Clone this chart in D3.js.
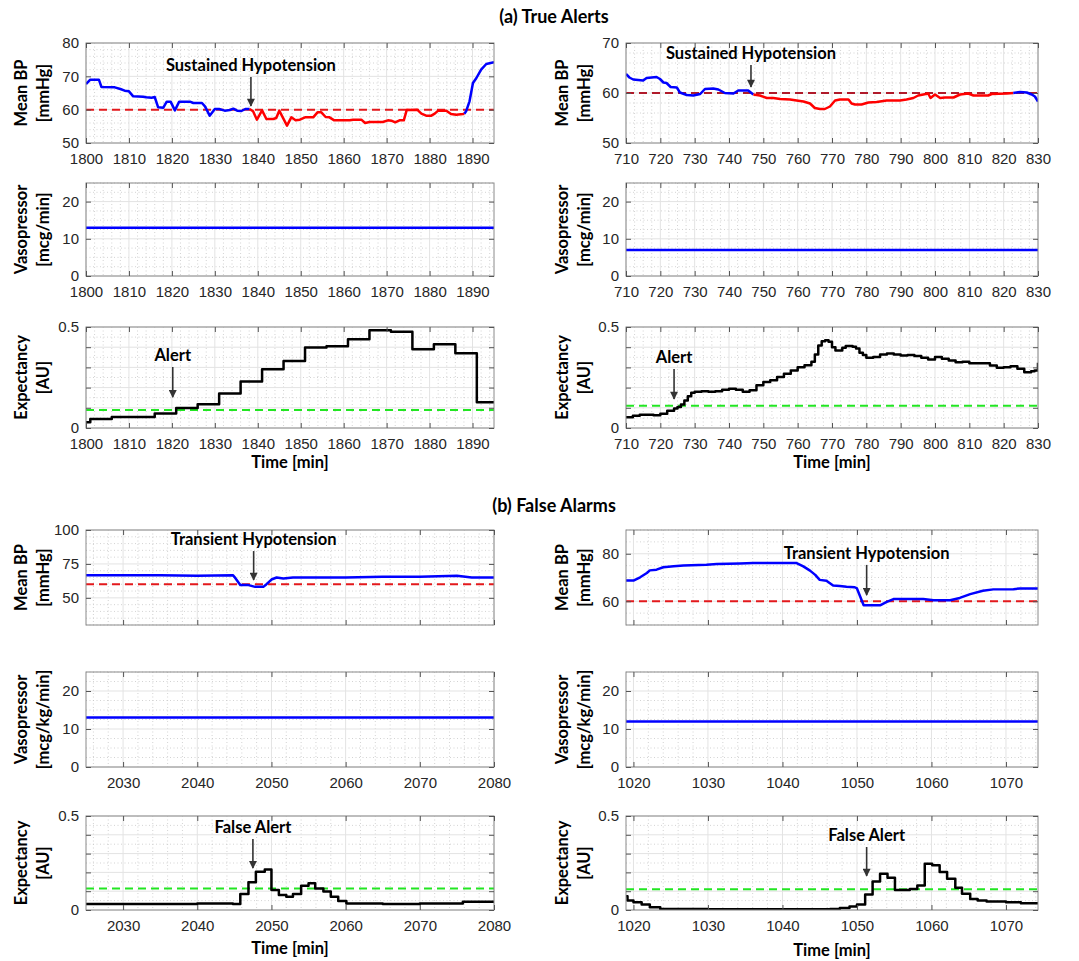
<!DOCTYPE html>
<html>
<head>
<meta charset="utf-8">
<script src="https://cdn.jsdelivr.net/npm/d3@7"></script>
<style>
  body { margin: 0; background: #fff; }
  .tick text { font-family: 'Liberation Sans', Arial, sans-serif; font-size: 15px; fill: #262626; }
  .lbl { font-family: Lato, 'Open Sans', sans-serif; font-weight: 700; fill: #000; }
</style>
</head>
<body>
<svg id="chart" width="1079" height="961"></svg>
<script>
// ---- data ----
// (a) true alerts, left case
const bpTrueLeft = [[1800,67.7],[1801,69],[1803,69],[1803.6,66.8],[1806.7,66.7],[1808,66.2],[1809,65.7],[1810,65.5],[1811,64],[1813.3,63.9],[1814,63.7],[1815.3,63.6],[1816,63.8],[1816.8,60.7],[1818,60.6],[1818.8,62.4],[1819.7,62.4],[1820.7,59.8],[1821.7,62.4],[1824.2,62.4],[1825,62],[1827,62],[1827.7,61],[1828.8,58.2],[1830,60.2],[1831,60.2],[1832.3,59.7],[1833.5,59.9],[1834.3,60.3],[1835.2,59.7],[1836.2,59.6],[1837.1,60.2],[1838.1,60.2],[1838.9,59.5],[1839.8,57],[1841,59.8],[1842,57.2],[1843.6,57.2],[1844.3,57.5],[1845,59.7],[1846.8,55.2],[1847.8,57.7],[1848.8,56.8],[1849.8,57],[1851,57.7],[1852.9,57.7],[1853.9,59.2],[1854.8,59.2],[1855.8,57.8],[1856.7,57.7],[1857.8,56.8],[1861.4,56.8],[1862.2,57],[1864.1,57],[1865,56],[1866,56.3],[1869.1,56.3],[1870.3,56.8],[1871.1,56.7],[1872,56.2],[1873,56.8],[1874,56.8],[1874.7,60],[1876.1,59.9],[1877.1,60],[1878.1,58.8],[1879.2,58.2],[1880.4,58.2],[1881.2,58.8],[1882,59.7],[1883.9,59.7],[1885,58.7],[1886.2,58.5],[1887.8,58.7],[1888.1,58.8],[1888.5,59.5],[1889.3,62.5],[1890.1,68],[1890.9,69.5],[1892,72],[1893.2,73.7],[1895,74.2]];
const hypoSpanTrueLeft = [1838.1, 1888.1];
const vasoTrueLeft = [[1800,13],[1895,13]];
const expTrueLeft = [[1800,0.028],[1801,0.044],[1806,0.055],[1816,0.072],[1821,0.099],[1826,0.118],[1831,0.171],[1836,0.23],[1841,0.291],[1846,0.332],[1851,0.398],[1856,0.405],[1861,0.439],[1866,0.484],[1871,0.477],[1876,0.39],[1881,0.414],[1886,0.37],[1891,0.127],[1895,0.127]];
const xTicksTrueLeft = [1800,1810,1820,1830,1840,1850,1860,1870,1880,1890];

// (a) true alerts, right case
const bpTrueRight = [[710,63.8],[711,63.1],[712.1,62.7],[715,62.5],[716,63],[718.9,63.2],[719.9,62.8],[720.9,62.1],[721.8,62],[723,61.2],[724.8,61.1],[725.7,60.1],[727.7,59.6],[729.6,59.5],[731.6,59.8],[733,60.8],[735.4,60.9],[736.9,60.7],[738.8,60],[741.3,59.9],[742.7,60.5],[745.6,60.5],[747.1,59.7],[749,59.5],[751,59],[752.9,59],[754.9,58.8],[757.8,58.7],[759.7,58.5],[761.7,58.3],[763.6,57.9],[765,57],[766.5,56.8],[767.9,56.8],[769.4,57.3],[770.9,58.5],[772.3,58.7],[774.8,58.7],[775.7,57.9],[776.7,57.7],[778.6,57.7],[780.6,58.1],[783,58.2],[785.9,58.5],[789.8,58.5],[791.7,58.7],[793.7,59],[795.1,59.5],[796.6,59.7],[798,59.9],[798.7,59],[800,59.7],[801.5,59],[802.9,59.1],[805.4,59.1],[807.3,59.7],[809.7,59.9],[811.2,59.5],[815.5,59.5],[816.5,59.8],[820.9,59.9],[822.8,60],[824.8,60.2],[826.7,60.1],[828.2,59.7],[829.1,59.3],[830,58.3]];
const hypoSpanTrueRight = [747.1, 822.8];
const vasoTrueRight = [[710,7],[830,7]];
const expTrueRight = [[710,0.053],[712,0.061],[714,0.066],[716,0.066],[718,0.063],[720,0.071],[722,0.086],[724,0.096],[725,0.104],[726,0.116],[727,0.136],[728,0.157],[729,0.174],[730,0.179],[732,0.182],[734,0.179],[736,0.182],[738,0.189],[740,0.194],[742,0.189],[744,0.179],[746,0.187],[748,0.212],[750,0.228],[752,0.237],[754,0.252],[756,0.268],[758,0.285],[760,0.301],[762,0.311],[764,0.328],[765,0.364],[766,0.409],[767,0.43],[768,0.434],[769,0.427],[770,0.4],[771,0.384],[772,0.384],[773,0.397],[774,0.406],[776,0.402],[777,0.394],[778,0.372],[779,0.361],[780,0.348],[782,0.351],[784,0.364],[786,0.369],[788,0.364],[790,0.359],[792,0.361],[794,0.356],[796,0.348],[798,0.339],[800,0.351],[802,0.343],[804,0.334],[806,0.326],[808,0.328],[810,0.32],[812,0.32],[814,0.32],[816,0.31],[818,0.298],[820,0.301],[822,0.306],[824,0.293],[826,0.276],[828,0.281],[829,0.285],[830,0.323]];
const xTicksTrueRight = [710,720,730,740,750,760,770,780,790,800,810,820,830];

// (b) false alarms, left case
const bpFalseLeft = [[2025,66.7],[2035,66.7],[2040,66.3],[2044.8,66.7],[2045,65.5],[2045.8,59.4],[2046.9,59.4],[2047.8,58.1],[2048.9,58.1],[2049.3,59.9],[2050,63.5],[2050.7,65],[2051.6,64.3],[2052.9,65],[2060,65],[2065,65.5],[2070,65.5],[2075,66.3],[2077,65],[2080,65]];
const vasoFalseLeft = [[2025,13],[2080,13]];
const expFalseLeft = [[2025,0.032],[2035,0.032],[2040,0.035],[2044,0.034],[2044.8,0.032],[2045.8,0.085],[2046.9,0.147],[2047.9,0.204],[2049.1,0.216],[2050,0.106],[2051,0.08],[2052,0.071],[2052.9,0.085],[2054,0.129],[2055,0.142],[2055.9,0.115],[2057,0.098],[2058,0.071],[2059,0.048],[2060.1,0.035],[2065,0.032],[2070,0.034],[2075,0.035],[2075.8,0.044],[2080,0.043]];
const xTicksFalseLeft = [2030,2040,2050,2060,2070,2080];

// (b) false alarms, right case
const bpFalseRight = [[1019,68.7],[1020,68.7],[1020.9,70.1],[1021.8,71.9],[1022.2,73],[1023.1,73.3],[1024,74.3],[1025.4,74.7],[1026.7,75.1],[1029.8,75.4],[1031.2,75.7],[1034.3,75.9],[1036.1,76.1],[1041.9,76.1],[1042.8,74.7],[1043.7,72.9],[1044.4,71.1],[1045,69],[1045.9,68.6],[1046.8,66.6],[1047.7,66.4],[1048.6,66.1],[1049.7,65.9],[1050,65.4],[1050.9,58.3],[1051.8,58.3],[1053.1,58.3],[1054,59.7],[1054.9,60.9],[1056.7,60.9],[1058.9,60.9],[1060.3,60.4],[1062.5,60.4],[1063.8,61.4],[1065.2,63],[1066.9,64.4],[1068.3,65],[1071,65.1],[1071.9,65.4],[1074.3,65.4]];
const vasoFalseRight = [[1019,12],[1074.3,12]];
const expFalseRight = [[1019,0.073],[1019.2,0.05],[1020,0.041],[1021.1,0.029],[1022.2,0.014],[1023.6,0.005],[1030,0.004],[1040,0.004],[1046.4,0.005],[1047.7,0.011],[1049,0.018],[1050,0.029],[1051.1,0.082],[1052.1,0.152],[1053.1,0.193],[1054.1,0.171],[1055.1,0.107],[1056.1,0.107],[1057.1,0.112],[1058.1,0.13],[1059.1,0.246],[1060.1,0.238],[1061.1,0.202],[1062.1,0.166],[1063.2,0.118],[1064.1,0.086],[1065.2,0.059],[1066.2,0.05],[1067.4,0.045],[1070,0.041],[1072,0.036],[1074.3,0.029]];
const xTicksFalseRight = [1020,1030,1040,1050,1060,1070];

// thresholds and annotations: [text, time, arrow tip value, arrow tail value]
const bpThreshold = 60;
const expThresholds = [0.089, 0.11, 0.114, 0.11];
const notesBP = [
  ['Sustained Hypotension', 1838.4, 61.1, 69.8],
  ['Sustained Hypotension', 746.4, 61.2, 65.6],
  ['Transient Hypotension', 2047.6, 63.2, 84.5],
  ['Transient Hypotension', 1051.3, 62.6, 75.3]
];
const notesExp = [
  ['Alert', 1820.2, 0.153, 0.302],
  ['Alert', 724, 0.144, 0.292],
  ['False Alert', 2047.5, 0.223, 0.378],
  ['False Alert', 1051.3, 0.181, 0.335]
];
const sectionTitles = ['(a) True Alerts', '(b) False Alarms'];

// ---- layout ----
const svg = d3.select('#chart');
const cols = [[86, 494], [626, 1038]];
const rows = {
  aBP: [43, 143], aVaso: [183, 276], aExp: [327, 428],
  bBP: [530, 625], bVaso: [672, 767], bExp: [816, 910]
};

svg.append('defs').append('marker')
  .attr('id', 'arrowhead')
  .attr('viewBox', '0 0 10 10')
  .attr('refX', 9).attr('refY', 5)
  .attr('markerWidth', 5.5).attr('markerHeight', 5)
  .attr('markerUnits', 'strokeWidth')
  .attr('orient', 'auto')
  .append('path').attr('d', 'M0,0 L10,5 L0,10 z').attr('fill', '#333');

function splitSpan(pts, span) {
  return [
    { pts: pts.filter(d => d[0] <= span[0]), color: '#0000ff' },
    { pts: pts.filter(d => d[0] >= span[0] && d[0] <= span[1]), color: '#ff0000' },
    { pts: pts.filter(d => d[0] >= span[1]), color: '#0000ff' }
  ];
}

let clipId = 0;

function drawPanel(p) {
  const [x0, x1] = cols[p.col];
  const [y0, y1] = p.row;
  const x = d3.scaleLinear().domain(p.xDom).range([x0, x1]);
  const y = d3.scaleLinear().domain(p.yDom).range([y1, y0]);
  const g = svg.append('g');

  // minor grid (dotted)
  const xMinor = d3.range(Math.ceil(p.xDom[0] / p.xMinor) * p.xMinor, p.xDom[1] + 1e-9, p.xMinor)
    .filter(v => !p.xTicks.includes(v));
  const yMinor = d3.range(Math.ceil(p.yDom[0] / p.yMinor) * p.yMinor, p.yDom[1] + 1e-9, p.yMinor)
    .filter(v => !p.yTicks.some(t => Math.abs(t - v) < 1e-9));
  g.selectAll('.xm').data(xMinor).join('line')
    .attr('x1', d => x(d)).attr('x2', d => x(d)).attr('y1', y0).attr('y2', y1)
    .attr('stroke', '#c8c8c8').attr('stroke-width', 0.8).attr('stroke-dasharray', '1,2.5');
  g.selectAll('.ym').data(yMinor).join('line')
    .attr('x1', x0).attr('x2', x1).attr('y1', d => y(d)).attr('y2', d => y(d))
    .attr('stroke', '#c8c8c8').attr('stroke-width', 0.8).attr('stroke-dasharray', '1,2.5');

  // major grid
  g.selectAll('.xg').data(p.xTicks).join('line')
    .attr('x1', d => x(d)).attr('x2', d => x(d)).attr('y1', y0).attr('y2', y1)
    .attr('stroke', '#e3e3e3').attr('stroke-width', 1);
  g.selectAll('.yg').data(p.yTicks).join('line')
    .attr('x1', x0).attr('x2', x1).attr('y1', d => y(d)).attr('y2', d => y(d))
    .attr('stroke', '#e3e3e3').attr('stroke-width', 1);

  const id = 'clip' + (clipId++);
  svg.select('defs').append('clipPath').attr('id', id)
    .append('rect').attr('x', x0).attr('y', y0 - 1).attr('width', x1 - x0).attr('height', y1 - y0 + 1);
  const plot = g.append('g').attr('clip-path', `url(#${id})`);

  // threshold
  if (p.thresh) {
    plot.append('line')
      .attr('x1', x0).attr('x2', x1)
      .attr('y1', y(p.thresh.v)).attr('y2', y(p.thresh.v))
      .attr('stroke', p.thresh.color).attr('stroke-width', 2)
      .attr('stroke-dasharray', '8,5');
  }

  const line = d3.line()
    .x(d => x(d[0])).y(d => y(d[1]))
    .curve(p.step ? d3.curveStepAfter : d3.curveLinear);
  p.series.forEach(s => {
    plot.append('path').datum(s.pts)
      .attr('d', line).attr('fill', 'none')
      .attr('stroke', s.color).attr('stroke-width', 2.5)
      .attr('stroke-linejoin', 'round');
  });

  // frame
  g.append('rect').attr('x', x0).attr('y', y0).attr('width', x1 - x0).attr('height', y1 - y0)
    .attr('fill', 'none').attr('stroke', '#8a8a8a').attr('stroke-width', 1);

  // axes with inward ticks on all sides
  const fmtY = d => (p.yLabels.some(t => Math.abs(t - d) < 1e-9) ? d3.format('~g')(d) : '');
  const axB = g.append('g').attr('transform', `translate(0,${y1})`)
    .call(d3.axisBottom(x).tickValues(p.xTicks).tickSize(-5).tickPadding(10)
      .tickFormat(p.xLabels ? d3.format('d') : ''));
  const axT = g.append('g').attr('transform', `translate(0,${y0})`)
    .call(d3.axisTop(x).tickValues(p.xTicks).tickSize(-5).tickFormat(''));
  const axL = g.append('g').attr('transform', `translate(${x0},0)`)
    .call(d3.axisLeft(y).tickValues(p.yTicks).tickSize(-5).tickPadding(7).tickFormat(fmtY));
  const axR = g.append('g').attr('transform', `translate(${x1},0)`)
    .call(d3.axisRight(y).tickValues(p.yTicks).tickSize(-5).tickFormat(''));
  [axB, axT, axL, axR].forEach(a => {
    a.select('.domain').remove();
    a.selectAll('.tick line').attr('stroke', '#555');
  });

  // y label (two lines)
  const cy = (y0 + y1) / 2;
  const lx = p.col === 0 ? [21, 43] : [562, 584];
  p.ylab.forEach((t, i) => {
    svg.append('text').attr('class', 'lbl')
      .attr('transform', `translate(${lx[i]},${cy}) rotate(-90)`)
      .attr('text-anchor', 'middle').attr('dominant-baseline', 'central')
      .attr('font-size', 16.5).text(t);
  });

  if (p.timeLabel) {
    svg.append('text').attr('class', 'lbl')
      .attr('x', (x0 + x1) / 2).attr('y', y1 + p.timeLabel)
      .attr('text-anchor', 'middle').attr('font-size', 16.5).text('Time [min]');
  }

  if (p.note) {
    const [txt, t, tip, tail] = p.note;
    svg.append('line')
      .attr('x1', x(t)).attr('x2', x(t))
      .attr('y1', y(tail)).attr('y2', y(tip))
      .attr('stroke', '#333').attr('stroke-width', 1.6)
      .attr('marker-end', 'url(#arrowhead)');
    svg.append('text').attr('class', 'lbl')
      .attr('x', x(t)).attr('y', y(tail) - 6)
      .attr('text-anchor', 'middle').attr('font-size', 16.5).text(txt);
  }
}

const bpYTicks = [50, 60, 70, 80];
const vasoYTicks = [0, 10, 20];
const expYTicks = [0, 0.1, 0.2, 0.3, 0.4, 0.5];
const expYLabels = [0, 0.5];

const panels = [
  // (a) left
  { col: 0, row: rows.aBP, xDom: [1800, 1895], xTicks: xTicksTrueLeft, xMinor: 2, xLabels: true,
    yDom: [50, 80], yTicks: bpYTicks, yLabels: bpYTicks, yMinor: 2, ylab: ['Mean BP', '[mmHg]'],
    series: splitSpan(bpTrueLeft, hypoSpanTrueLeft), thresh: { v: bpThreshold, color: '#e3191c' }, note: notesBP[0] },
  { col: 0, row: rows.aVaso, xDom: [1800, 1895], xTicks: xTicksTrueLeft, xMinor: 2, xLabels: true,
    yDom: [0, 25], yTicks: vasoYTicks, yLabels: vasoYTicks, yMinor: 2.5, ylab: ['Vasopressor', '[mcg/min]'],
    series: [{ pts: vasoTrueLeft, color: '#0000ff' }] },
  { col: 0, row: rows.aExp, xDom: [1800, 1895], xTicks: xTicksTrueLeft, xMinor: 2, xLabels: true,
    yDom: [0, 0.5], yTicks: expYTicks, yLabels: expYLabels, yMinor: 0.05, ylab: ['Expectancy', '[AU]'], step: true,
    series: [{ pts: expTrueLeft, color: '#000' }], thresh: { v: expThresholds[0], color: '#22e622' },
    note: notesExp[0], timeLabel: 40 },
  // (a) right
  { col: 1, row: rows.aBP, xDom: [710, 830], xTicks: xTicksTrueRight, xMinor: 2.5, xLabels: true,
    yDom: [50, 70], yTicks: [50, 60, 70], yLabels: [50, 60, 70], yMinor: 2, ylab: ['Mean BP', '[mmHg]'],
    series: splitSpan(bpTrueRight, hypoSpanTrueRight), thresh: { v: bpThreshold, color: '#b01a2a' }, note: notesBP[1] },
  { col: 1, row: rows.aVaso, xDom: [710, 830], xTicks: xTicksTrueRight, xMinor: 2.5, xLabels: true,
    yDom: [0, 25], yTicks: vasoYTicks, yLabels: vasoYTicks, yMinor: 2.5, ylab: ['Vasopressor', '[mcg/min]'],
    series: [{ pts: vasoTrueRight, color: '#0000ff' }] },
  { col: 1, row: rows.aExp, xDom: [710, 830], xTicks: xTicksTrueRight, xMinor: 2.5, xLabels: true,
    yDom: [0, 0.5], yTicks: expYTicks, yLabels: expYLabels, yMinor: 0.05, ylab: ['Expectancy', '[AU]'], step: true,
    series: [{ pts: expTrueRight, color: '#000' }], thresh: { v: expThresholds[1], color: '#22e622' },
    note: notesExp[1], timeLabel: 40 },
  // (b) left
  { col: 0, row: rows.bBP, xDom: [2025, 2080], xTicks: xTicksFalseLeft, xMinor: 2, xLabels: false,
    yDom: [30, 100], yTicks: [50, 75, 100], yLabels: [50, 75, 100], yMinor: 5, ylab: ['Mean BP', '[mmHg]'],
    series: [{ pts: bpFalseLeft, color: '#0000ff' }], thresh: { v: bpThreshold, color: '#e3191c' }, note: notesBP[2] },
  { col: 0, row: rows.bVaso, xDom: [2025, 2080], xTicks: xTicksFalseLeft, xMinor: 2, xLabels: true,
    yDom: [0, 25], yTicks: vasoYTicks, yLabels: vasoYTicks, yMinor: 2.5, ylab: ['Vasopressor', '[mcg/kg/min]'],
    series: [{ pts: vasoFalseLeft, color: '#0000ff' }] },
  { col: 0, row: rows.bExp, xDom: [2025, 2080], xTicks: xTicksFalseLeft, xMinor: 2, xLabels: true,
    yDom: [0, 0.5], yTicks: expYTicks, yLabels: expYLabels, yMinor: 0.05, ylab: ['Expectancy', '[AU]'], step: true,
    series: [{ pts: expFalseLeft, color: '#000' }], thresh: { v: expThresholds[2], color: '#22e622' },
    note: notesExp[2], timeLabel: 44 },
  // (b) right
  { col: 1, row: rows.bBP, xDom: [1019, 1074.3], xTicks: xTicksFalseRight, xMinor: 2, xLabels: false,
    yDom: [50, 90], yTicks: [60, 80], yLabels: [60, 80], yMinor: 5, ylab: ['Mean BP', '[mmHg]'],
    series: [{ pts: bpFalseRight, color: '#0000ff' }], thresh: { v: bpThreshold, color: '#e3191c' }, note: notesBP[3] },
  { col: 1, row: rows.bVaso, xDom: [1019, 1074.3], xTicks: xTicksFalseRight, xMinor: 2, xLabels: true,
    yDom: [0, 25], yTicks: vasoYTicks, yLabels: vasoYTicks, yMinor: 2.5, ylab: ['Vasopressor', '[mcg/kg/min]'],
    series: [{ pts: vasoFalseRight, color: '#0000ff' }] },
  { col: 1, row: rows.bExp, xDom: [1019, 1074.3], xTicks: xTicksFalseRight, xMinor: 2, xLabels: true,
    yDom: [0, 0.5], yTicks: expYTicks, yLabels: expYLabels, yMinor: 0.05, ylab: ['Expectancy', '[AU]'], step: true,
    series: [{ pts: expFalseRight, color: '#000' }], thresh: { v: expThresholds[3], color: '#22e622' },
    note: notesExp[3], timeLabel: 46 }
];

panels.forEach(drawPanel);

// section titles
svg.append('text').attr('class', 'lbl').attr('x', 554).attr('y', 23)
  .attr('text-anchor', 'middle').attr('font-size', 18).text(sectionTitles[0]);
svg.append('text').attr('class', 'lbl').attr('x', 554).attr('y', 512)
  .attr('text-anchor', 'middle').attr('font-size', 18).text(sectionTitles[1]);
</script>
</body>
</html>
